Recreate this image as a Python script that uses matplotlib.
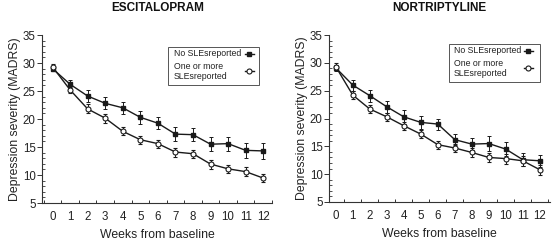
import matplotlib
matplotlib.use("Agg")
import matplotlib.pyplot as plt
from matplotlib.ticker import MultipleLocator, FixedLocator
from matplotlib.patches import Rectangle
from matplotlib.lines import Line2D
import numpy as np

plt.rcParams['font.family'] = ['Liberation Sans', 'DejaVu Sans']

weeks = list(range(13))
week_labels = [str(w) for w in weeks]

esc_no = [29.0, 26.2, 24.1, 22.8, 22.0, 20.3, 19.25, 17.3, 17.2, 15.5, 15.6, 14.4, 14.3]
esc_no_err = [0.5, 0.75, 1.0, 1.1, 1.1, 1.2, 1.1, 1.3, 1.2, 1.3, 1.25, 1.3, 1.4]
esc_sle = [29.3, 25.2, 21.8, 20.15, 17.8, 16.3, 15.6, 14.1, 13.8, 11.95, 11.1, 10.6, 9.45]
esc_sle_err = [0.5, 0.6, 0.8, 0.8, 0.7, 0.7, 0.7, 0.8, 0.7, 0.8, 0.7, 0.8, 0.7]

nor_no = [29.1, 26.0, 24.1, 22.1, 20.3, 19.3, 19.0, 16.2, 15.4, 15.5, 14.5, 12.6, 12.4]
nor_no_err = [0.6, 1.0, 1.1, 1.1, 1.2, 1.2, 1.0, 1.0, 1.1, 1.4, 1.2, 1.2, 1.1]
nor_sle = [29.3, 24.2, 21.7, 20.3, 18.7, 17.2, 15.3, 14.7, 13.9, 13.0, 12.8, 12.4, 10.8]
nor_sle_err = [0.6, 0.7, 0.7, 0.7, 0.7, 0.7, 0.7, 0.8, 0.8, 0.8, 0.9, 0.9, 0.9]

titles = ["ESCITALOPRAM", "NORTRIPTYLINE"]
label_no = "No SLEsreported"
label_sle = "One or more\nSLEsreported"

W, H = 552, 240
fig = plt.figure(figsize=(W / 100, H / 100), dpi=100)


def fx(px):
    return px / W


def fy(py):
    return 1 - py / H


panels = [
    dict(rect=[fx(42), fy(203), fx(272 - 42), (203 - 35) / H], xl=(-0.6, 12.5),
         no=esc_no, noe=esc_no_err, sle=esc_sle, slee=esc_sle_err,
         title_x=157.5, box=(167.5, 46.5, 258.5, 84.5), text_x=174,
         rows=(54, 66.3, 77), hx=249, hy_sle=71.3),
    dict(rect=[fx(329), fy(202), fx(550 - 329), (202 - 35) / H], xl=(-0.4, 12.6),
         no=nor_no, noe=nor_no_err, sle=nor_sle, slee=nor_sle_err,
         title_x=439, box=(448.5, 43.5, 539.5, 81.5), text_x=453.5,
         rows=(50.7, 62.3, 74), hx=528, hy_sle=68.3),
]

axc = '#333333'
tc = '#222222'
for i, p in enumerate(panels):
    ax = fig.add_axes(p['rect'])
    ax.errorbar(weeks, p['no'], yerr=p['noe'], color='#1a1a1a', lw=1.0, marker='s', ms=3.3,
                mfc='#1a1a1a', mec='#1a1a1a', capsize=1.3, elinewidth=0.7, capthick=0.7,
                zorder=3)
    ax.errorbar(weeks, p['sle'], yerr=p['slee'], color='#1a1a1a', lw=1.0, marker='o', ms=3.6,
                mfc='white', mec='#1a1a1a', mew=0.8, capsize=1.3, elinewidth=0.7, capthick=0.7,
                zorder=4)
    ax.set_xlim(*p['xl'])
    ax.set_ylim(5, 35)
    ax.spines['top'].set_visible(False)
    ax.spines['right'].set_visible(False)
    for s in ['left', 'bottom']:
        ax.spines[s].set_color(axc)
        ax.spines[s].set_linewidth(0.8)
    ax.set_xticks(weeks)
    ax.set_xticklabels(week_labels)
    ax.xaxis.set_minor_locator(FixedLocator(np.arange(-0.5, 13, 1.0)))
    ax.tick_params(axis='x', which='major', length=0, pad=6, labelsize=8.3, colors=tc)
    ax.tick_params(axis='x', which='minor', direction='in', length=2.5, width=0.7, color=axc)
    ax.yaxis.set_major_locator(MultipleLocator(5))
    ax.yaxis.set_minor_locator(MultipleLocator(1))
    ax.tick_params(axis='y', which='major', direction='out', length=3.5, width=0.7, color=axc,
                   labelsize=8.3, pad=1, labelcolor=tc)
    ax.tick_params(axis='y', which='minor', direction='in', length=1.8, width=0.6, color=axc)
    ax.set_xlabel("Weeks from baseline", fontsize=8.8, color=tc, labelpad=4)
    ax.set_ylabel("Depression severity (MADRS)", fontsize=8.8, color=tc, labelpad=1)
    fig.text(fx(p['title_x']), fy(7.8), titles[i], fontsize=8.5, fontweight='bold',
             color='#111111', ha='center', va='center')

    # legend drawn in figure pixel coordinates
    x0, y0, x1, y1 = p['box']
    fig.add_artist(Rectangle((fx(x0), fy(y1)), fx(x1 - x0), (y1 - y0) / H,
                             transform=fig.transFigure, fill=False, ec='#555555', lw=0.7))
    r1, r2, r3 = p['rows']
    fig.text(fx(p['text_x']), fy(r1), label_no, fontsize=6.3, color=tc, ha='left', va='center')
    fig.text(fx(p['text_x']), fy((r2 + r3) / 2), label_sle, fontsize=6.3, color=tc,
             ha='left', va='center', linespacing=1.15)
    hx = p['hx']
    fig.add_artist(Line2D([fx(hx - 4.5), fx(hx + 4.5)], [fy(r1), fy(r1)],
                          transform=fig.transFigure, color='#1a1a1a', lw=1.0))
    fig.add_artist(Line2D([fx(hx)], [fy(r1)], transform=fig.transFigure, ls='none',
                          marker='s', ms=3.3, mfc='#1a1a1a', mec='#1a1a1a'))
    fig.add_artist(Line2D([fx(hx - 4.5), fx(hx + 4.5)], [fy(p['hy_sle'])] * 2,
                          transform=fig.transFigure, color='#1a1a1a', lw=1.0))
    fig.add_artist(Line2D([fx(hx)], [fy(p['hy_sle'])], transform=fig.transFigure, ls='none',
                          marker='o', ms=3.6, mfc='white', mec='#1a1a1a', mew=0.8))

fig.savefig("out.png", dpi=100)
